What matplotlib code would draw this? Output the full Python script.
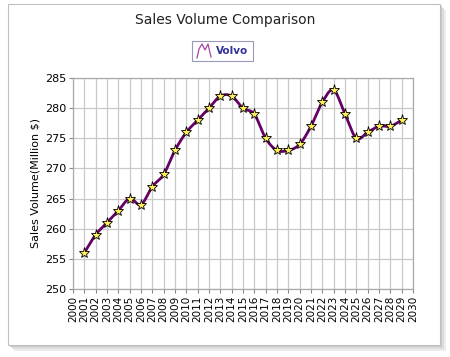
import numpy as np
import matplotlib
matplotlib.use("Agg")
import matplotlib.pyplot as plt
from matplotlib.patches import Rectangle
from matplotlib.lines import Line2D

years = [2001, 2002, 2003, 2004, 2005, 2006, 2007, 2008, 2009, 2010,
         2011, 2012, 2013, 2014, 2015, 2016, 2017, 2018, 2019, 2020,
         2021, 2022, 2023, 2024, 2025, 2026, 2027, 2028, 2029]
volvo = [256, 259, 261, 263, 265, 264, 267, 269, 273, 276,
         278, 280, 282, 282, 280, 279, 275, 273, 273, 274,
         277, 281, 283, 279, 275, 276, 277, 277, 278]
series_name = "Volvo"
title = "Sales Volume Comparison"
ylabel = "Sales Volume(Million $)"


def catmull_rom(x, y, n=20):
    x = np.asarray(x, float); y = np.asarray(y, float)
    px = np.concatenate([[2 * x[0] - x[1]], x, [2 * x[-1] - x[-2]]])
    py = np.concatenate([[2 * y[0] - y[1]], y, [2 * y[-1] - y[-2]]])
    xs, ys = [], []
    t = np.linspace(0, 1, n, endpoint=False)
    for i in range(1, len(px) - 2):
        for arr, a in ((xs, px), (ys, py)):
            a0, a1, a2, a3 = a[i - 1], a[i], a[i + 1], a[i + 2]
            arr.extend(0.5 * ((2 * a1) + (-a0 + a2) * t + (2 * a0 - 5 * a1 + 4 * a2 - a3) * t ** 2
                              + (-a0 + 3 * a1 - 3 * a2 + a3) * t ** 3))
    xs.append(x[-1]); ys.append(y[-1])
    return np.array(xs), np.array(ys)


fig = plt.figure(figsize=(4.5, 3.57), dpi=100)
fig.patch.set_facecolor("white")

# outer frame with soft shadow
for off, col in ((6, "#ececec"), (4, "#dcdcdc"), (2, "#c8c8c8")):
    fig.add_artist(Rectangle(((8 + off) / 450, 1 - (345 + off) / 357), 432 / 450, 341 / 357,
                             transform=fig.transFigure, facecolor=col,
                             edgecolor="none", zorder=-2))
fig.add_artist(Rectangle((8 / 450, 1 - 345 / 357), 432 / 450, 341 / 357,
                         transform=fig.transFigure, facecolor="white",
                         edgecolor="#c0c0c0", linewidth=0.8, zorder=-1))

ax = fig.add_axes([73 / 450, 1 - 289 / 357, 340 / 450, 211 / 357])
ax.set_zorder(1)
ax.set_xlim(2000, 2030)
ax.set_ylim(250, 285)
ax.set_xticks(range(2000, 2031))
ax.set_yticks(range(250, 286, 5))
ax.set_xticklabels([str(v) for v in range(2000, 2031)], rotation=90, fontsize=7.5)
ax.tick_params(axis="y", labelsize=8)
ax.tick_params(length=3, color="#888888", pad=2)
ax.grid(True, color="#c8c8c8", linewidth=0.9)
ax.set_axisbelow(True)
for s in ax.spines.values():
    s.set_color("#aaaaaa")
    s.set_linewidth(0.9)

sx, sy = catmull_rom(years, volvo)
ax.plot(sx, sy, color="#660066", linewidth=2.0, zorder=3)
ax.plot(years, volvo, linestyle="none", marker="*", markersize=8,
        markerfacecolor="#ffee55", markeredgecolor="black", markeredgewidth=0.6, zorder=4)

ax.set_ylabel(ylabel, fontsize=8, labelpad=3)

fig.text(225 / 450, 1 - 20 / 357, title, ha="center", va="center", fontsize=10, color="#222222")

# legend box
fig.add_artist(Rectangle((192 / 450, 1 - 61 / 357), 61 / 450, 20 / 357,
                         transform=fig.transFigure, facecolor="white",
                         edgecolor="#9999bb", linewidth=0.8, zorder=2))
lx = np.array([197, 199, 202, 205, 208, 211]) / 450
ly = 1 - np.array([58, 49, 44, 50, 44, 57]) / 357
fig.add_artist(Line2D(lx, ly, transform=fig.transFigure, color="#aa44aa", linewidth=0.9, zorder=3))
fig.text(216 / 450, 1 - 51.5 / 357, series_name, ha="left", va="center", fontsize=7.5,
         color="#333399", fontweight="bold", zorder=3)

fig.savefig("out.png", dpi=100)
